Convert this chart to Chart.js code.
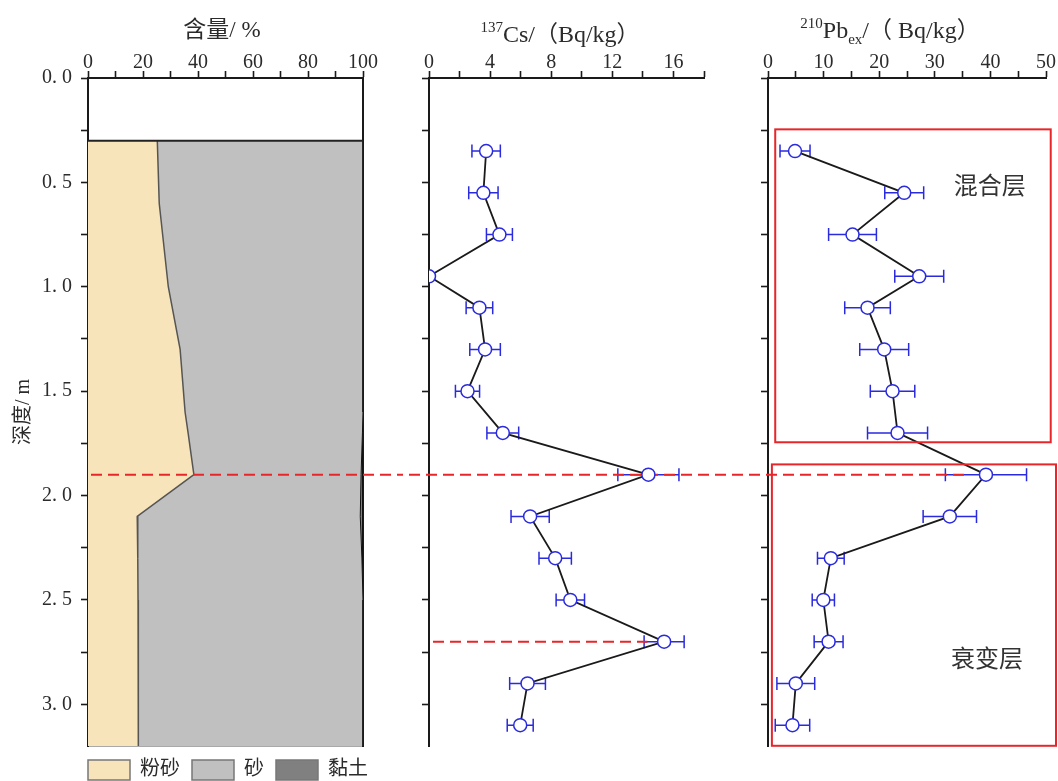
<!DOCTYPE html>
<html>
<head>
<meta charset="utf-8">
<script src="https://cdn.jsdelivr.net/npm/chart.js@4.4.1/dist/chart.umd.min.js"></script>
<style>
html,body{margin:0;padding:0;background:#fff;overflow:hidden;width:1058px;height:781px;}
canvas{position:absolute;top:0;}
</style>
</head>
<body>
<canvas id="c1" width="400" height="790" style="left:0px"></canvas>
<canvas id="c2" width="340" height="790" style="left:400px"></canvas>
<canvas id="c3" width="318" height="790" style="left:740px"></canvas>
<script>
// ---------------- data ----------------
const depthTickValues = [0, 0.5, 1.0, 1.5, 2.0, 2.5, 3.0];
const depthTickLabels = ['0. 0', '0. 5', '1. 0', '1. 5', '2. 0', '2. 5', '3. 0'];
const grainTickLabels = [0, 20, 40, 60, 80, 100];
const csTickLabels = [0, 4, 8, 12, 16];
const pbTickLabels = [0, 10, 20, 30, 40, 50];

// grain size composition (%)
const grainDepth = [0.3, 0.6, 1.0, 1.3, 1.6, 1.7, 1.9, 2.1, 2.3, 2.5, 3.2];
const siltPct = [25.2, 25.9, 29.2, 33.5, 35.3, 36.4, 38.5, 17.9, 18.1, 18.2, 18.3];
const sandPct = [74.8, 74.1, 70.8, 66.5, 64.7, 63.4, 60.8, 81.1, 81.5, 81.8, 81.7];
const clayPct = [0, 0, 0, 0, 0, 0.2, 0.7, 1.0, 0.4, 0, 0];

// radionuclides
const sampleDepth = [0.35, 0.55, 0.75, 0.95, 1.1, 1.3, 1.5, 1.7, 1.9, 2.1, 2.3, 2.5, 2.7, 2.9, 3.1];
const cs137 = [3.74, 3.56, 4.61, 0, 3.3, 3.67, 2.52, 4.83, 14.36, 6.62, 8.26, 9.25, 15.39, 6.45, 5.97];
const cs137Err = [0.93, 0.96, 0.85, 0, 0.87, 1.0, 0.79, 1.04, 2.0, 1.25, 1.06, 0.93, 1.31, 1.17, 0.85];
const pb210ex = [4.86, 24.5, 15.2, 27.2, 17.9, 20.9, 22.4, 23.3, 39.2, 32.7, 11.3, 9.95, 10.9, 5.0, 4.4];
const pb210exErr = [2.7, 3.5, 4.3, 4.4, 4.1, 4.4, 4.0, 5.4, 7.3, 4.8, 2.4, 2.0, 2.6, 3.4, 3.1];

const markerDepth = [1.9, 2.7];
const layerNames = ['混合层', '衰变层'];

// ---------------- styles ----------------
const FONT = "'Liberation Serif', 'Noto Sans CJK SC', serif";
const CJK = "'Noto Sans CJK SC', sans-serif";
const BLUE = '#2a2ade';
const RED = '#e8262a';
const INK = '#1a1a1a';
const TXT = '#2b2b2b';

Chart.defaults.font.family = FONT;
Chart.defaults.color = TXT;
Chart.defaults.animation = false;

// ---------------- plugins ----------------
const legendShift = {
  id: 'legendShift',
  afterLayout(chart) {
    const lg = chart.legend;
    if (!lg || !lg.options.display) return;
    const dx = chart.chartArea.left - lg.options.labels.padding - lg.left;
    lg.left += dx; lg.right += dx;
  }
};

const richTitle = {
  id: 'richTitle',
  afterDraw(chart, args, o) {
    if (!o || !o.segments) return;
    const ctx = chart.ctx;
    ctx.save();
    let total = 0;
    const segs = o.segments.map(s => {
      ctx.font = s.size + 'px ' + (s.family || FONT);
      const w = ctx.measureText(s.text).width;
      total += w;
      return {text: s.text, size: s.size, dy: s.dy || 0, family: s.family || FONT, w};
    });
    let xx = o.cx - total / 2;
    ctx.fillStyle = TXT;
    ctx.textBaseline = 'alphabetic';
    ctx.textAlign = 'left';
    segs.forEach(s => {
      ctx.font = s.size + 'px ' + s.family;
      ctx.fillText(s.text, xx, o.baseline + s.dy);
      xx += s.w;
    });
    ctx.restore();
  }
};

function drawOverlay(chart, o, phase) {
  if (!o) return;
  const {ctx} = chart;
  const x = chart.scales.x, y = chart.scales.y;
  if (phase === 'before' && o.errors) {
    ctx.save();
    ctx.strokeStyle = BLUE;
    ctx.lineWidth = 1.5;
    const vals = o.errors.values, errs = o.errors.err, deps = o.errors.depth;
    for (let i = 0; i < vals.length; i++) {
      const e = errs[i];
      if (!e) continue;
      const py = y.getPixelForValue(deps[i]);
      const x1 = x.getPixelForValue(vals[i] - e), x2 = x.getPixelForValue(vals[i] + e);
      ctx.beginPath();
      ctx.moveTo(x1, py); ctx.lineTo(x2, py);
      ctx.moveTo(x1, py - 6.5); ctx.lineTo(x1, py + 6.5);
      ctx.moveTo(x2, py - 6.5); ctx.lineTo(x2, py + 6.5);
      ctx.stroke();
    }
    ctx.restore();
  }
  if (o.dashes && o.dashPhase === phase) {
    ctx.save();
    ctx.strokeStyle = RED;
    ctx.lineWidth = 2;
    ctx.setLineDash([11, 6]);
    o.dashes.forEach(d => {
      const py = y.getPixelForValue(d.depth);
      const fx = d.from === 'edge' ? 0 : x.getPixelForValue(d.from);
      const tx = d.to === 'edge' ? chart.width : x.getPixelForValue(d.to);
      ctx.lineDashOffset = -((o.pageLeft + fx) % 17);
      ctx.beginPath();
      ctx.moveTo(fx, py); ctx.lineTo(tx, py);
      ctx.stroke();
    });
    ctx.restore();
  }
  if (phase === 'after' && o.boxes) {
    ctx.save();
    o.boxes.forEach(b => {
      const l = x.getPixelForValue(b.left), r = x.getPixelForValue(b.right);
      const t = y.getPixelForValue(b.top), bt = y.getPixelForValue(b.bottom);
      ctx.strokeStyle = RED;
      ctx.lineWidth = 2;
      ctx.strokeRect(l, t, r - l, bt - t);
      ctx.fillStyle = '#333';
      ctx.font = '24px ' + CJK;
      ctx.textAlign = 'center';
      ctx.textBaseline = 'middle';
      ctx.fillText(b.label, x.getPixelForValue(b.lx), y.getPixelForValue(b.ly));
    });
    ctx.restore();
  }
}
const overlay = {
  id: 'overlay',
  beforeDatasetsDraw(chart, args, o) { drawOverlay(chart, o, 'before'); },
  afterDatasetsDraw(chart, args, o) { drawOverlay(chart, o, 'after'); }
};

// ---------------- axes helpers ----------------
function depthAxis(width, withLabels, title) {
  return {
    type: 'linear', position: 'left', reverse: true, min: 0, max: 3.2,
    afterFit: s => { s.width = width; },
    ticks: {
      stepSize: 0.25, includeBounds: false, autoSkip: false, maxRotation: 0,
      padding: 9, color: TXT, font: {family: FONT, size: 20},
      callback: v => {
        if (!withLabels) return '';
        const i = depthTickValues.findIndex(d => Math.abs(d - v) < 1e-9);
        return i < 0 ? '' : depthTickLabels[i];
      }
    },
    grid: {drawOnChartArea: false, drawTicks: true, tickLength: 7, tickWidth: 1.6, tickColor: INK},
    border: {display: true, color: INK, width: 2},
    title: title ? {display: true, text: title, color: TXT, font: {family: FONT, size: 20}, padding: {top: 12, bottom: 0}} : {display: false}
  };
}
function topAxis(max, step, labels) {
  return {
    type: 'linear', position: 'top', min: 0, max: max,
    afterFit: s => { s.height = 78; },
    ticks: {
      stepSize: step, autoSkip: false, maxRotation: 0, padding: -2,
      color: TXT, font: {family: FONT, size: 20, lineHeight: 1},
      callback: v => labels.includes(v) ? String(v) : ''
    },
    grid: {drawOnChartArea: false, drawTicks: true, tickLength: 7, tickWidth: 1.6, tickColor: INK},
    border: {display: true, color: INK, width: 2}
  };
}

// ---------------- panel 1: grain size ----------------
const siltEdge = grainDepth.map((d, i) => ({x: siltPct[i], y: d}));
const sandEdge = grainDepth.map((d, i) => ({x: siltPct[i] + sandPct[i], y: d}));
const clayEdge = grainDepth.map((d, i) => ({x: siltPct[i] + sandPct[i] + clayPct[i], y: d}));
const topEdge = [{x: 0, y: grainDepth[0]}, {x: 100, y: grainDepth[0]}];

new Chart(document.getElementById('c1'), {
  type: 'line',
  data: {
    datasets: [
      {label: 'edge', data: topEdge, borderColor: '#222', borderWidth: 2, pointRadius: 0, fill: false, xAxisID: 'x', yAxisID: 'y'},
      {label: '粉砂', data: siltEdge, backgroundColor: '#F8E4BA', borderColor: '#555', borderWidth: 1.5, pointRadius: 0, fill: 'start', xAxisID: 'x', yAxisID: 'y'},
      {label: '砂', data: sandEdge, backgroundColor: '#C0C0C0', borderColor: '#111', borderWidth: 1, pointRadius: 0, fill: 'start', xAxisID: 'x', yAxisID: 'y'},
      {label: '黏土', data: clayEdge, backgroundColor: '#808080', borderColor: '#111', borderWidth: 2, pointRadius: 0, fill: 'start', xAxisID: 'x', yAxisID: 'y'}
    ]
  },
  options: {
    responsive: false, devicePixelRatio: 1, indexAxis: 'y', events: [],
    layout: {padding: {left: 0, right: 37, top: 0, bottom: 0}},
    scales: {
      x: topAxis(100, 10, grainTickLabels),
      x2: {type: 'linear', position: 'bottom', min: 0, max: 100, afterFit: s => { s.height = 2; },
           ticks: {display: false}, grid: {display: false}, border: {display: true, color: '#555', width: 1.5}},
      y: depthAxis(88, true, '深度/ m'),
      y2: {type: 'linear', position: 'right', reverse: true, min: 0, max: 3.2, afterFit: s => { s.width = 0; },
           ticks: {display: false}, grid: {display: false}, border: {display: true, color: INK, width: 2}}
    },
    plugins: {
      legend: {
        display: true, position: 'bottom', align: 'start',
        labels: {
          boxWidth: 42, boxHeight: 20, padding: 12, color: TXT, font: {family: FONT, size: 20},
          generateLabels: chart => Chart.defaults.plugins.legend.labels.generateLabels(chart)
            .filter(it => it.datasetIndex > 0)
            .map(it => Object.assign(it, {strokeStyle: '#777', lineWidth: 1.5}))
        }
      },
      tooltip: {enabled: false},
      richTitle: {cx: 222, baseline: 37, segments: [{text: '含量/ %', size: 23}]},
      overlay: {pageLeft: 0, dashPhase: 'after', dashes: [{depth: markerDepth[0], from: 0, to: 'edge'}]}
    }
  },
  plugins: [legendShift, richTitle, overlay]
});

// ---------------- panel 2: 137Cs ----------------
new Chart(document.getElementById('c2'), {
  type: 'scatter',
  data: {
    datasets: [{
      label: '137Cs', data: sampleDepth.map((d, i) => ({x: cs137[i], y: d})),
      showLine: true, borderColor: INK, borderWidth: 1.8,
      pointRadius: 6.5, pointBorderWidth: 1.5, pointBorderColor: BLUE, pointBackgroundColor: '#fff',
      clip: 0
    }]
  },
  options: {
    responsive: false, devicePixelRatio: 1, events: [],
    layout: {padding: {left: 0, right: 36, top: 0, bottom: 44}},
    scales: {
      x: topAxis(18, 2, csTickLabels),
      y: depthAxis(29, false, null)
    },
    plugins: {
      legend: {display: false}, tooltip: {enabled: false},
      richTitle: {cx: 160, baseline: 42, segments: [
        {text: '137', size: 15, dy: -10}, {text: 'Cs/', size: 24}, {text: '（', size: 23, family: CJK},
        {text: 'Bq/kg', size: 24}, {text: '）', size: 23, family: CJK}]},
      overlay: {
        pageLeft: 400, dashPhase: 'before',
        errors: {values: cs137, err: cs137Err, depth: sampleDepth},
        dashes: [{depth: markerDepth[0], from: 'edge', to: 'edge'}, {depth: markerDepth[1], from: 0, to: 14.3}]
      }
    }
  },
  plugins: [richTitle, overlay]
});

// ---------------- panel 3: 210Pbex ----------------
new Chart(document.getElementById('c3'), {
  type: 'scatter',
  data: {
    datasets: [{
      label: '210Pbex', data: sampleDepth.map((d, i) => ({x: pb210ex[i], y: d})),
      showLine: true, borderColor: INK, borderWidth: 1.8,
      pointRadius: 6.5, pointBorderWidth: 1.5, pointBorderColor: BLUE, pointBackgroundColor: '#fff'
    }]
  },
  options: {
    responsive: false, devicePixelRatio: 1, events: [],
    layout: {padding: {left: 0, right: 12, top: 0, bottom: 44}},
    scales: {
      x: topAxis(50, 5, pbTickLabels),
      y: depthAxis(28, false, null)
    },
    plugins: {
      legend: {display: false}, tooltip: {enabled: false},
      richTitle: {cx: 150, baseline: 38, segments: [
        {text: '210', size: 15, dy: -10}, {text: 'Pb', size: 24}, {text: 'ex', size: 15, dy: 6},
        {text: '/', size: 24}, {text: '（', size: 23, family: CJK}, {text: ' Bq/kg', size: 24}, {text: '）', size: 23, family: CJK}]},
      overlay: {
        pageLeft: 740, dashPhase: 'before',
        errors: {values: pb210ex, err: pb210exErr, depth: sampleDepth},
        dashes: [{depth: markerDepth[0], from: 'edge', to: 36.3}],
        boxes: [
          {left: 1.3, right: 50.85, top: 0.246, bottom: 1.745, label: layerNames[0], lx: 39.9, ly: 0.513},
          {left: 0.7, right: 51.8, top: 1.851, bottom: 3.199, label: layerNames[1], lx: 39.4, ly: 2.776}
        ]
      }
    }
  },
  plugins: [richTitle, overlay]
});
</script>
</body>
</html>
